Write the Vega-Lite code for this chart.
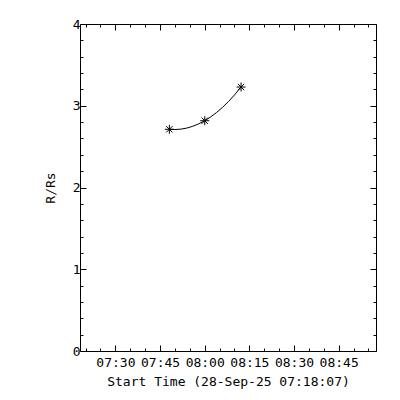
{
  "$schema": "https://vega.github.io/schema/vega-lite/v6.json",
  "width": 296,
  "height": 327,
  "autosize": "none",
  "padding": {"left": 80, "top": 24, "right": 24, "bottom": 49},
  "background": "white",
  "config": {
    "view": {"stroke": null},
    "axis": {
      "grid": false,
      "domainColor": "black",
      "domainWidth": 1,
      "tickColor": "black",
      "tickWidth": 1,
      "labelColor": "black",
      "titleColor": "black",
      "labelFont": "DejaVu Sans Mono",
      "titleFont": "DejaVu Sans Mono",
      "labelFontSize": 13,
      "titleFontSize": 13,
      "titleFontWeight": "normal",
      "labelFlush": false,
      "labelOverlap": false
    }
  },
  "datasets": {
    "fit": [
      {"time": "2025-09-28T07:48:08Z", "r": 2.712},
      {"time": "2025-09-28T07:50:00Z", "r": 2.709},
      {"time": "2025-09-28T07:52:00Z", "r": 2.714},
      {"time": "2025-09-28T07:54:00Z", "r": 2.727},
      {"time": "2025-09-28T07:56:00Z", "r": 2.749},
      {"time": "2025-09-28T07:58:00Z", "r": 2.779},
      {"time": "2025-09-28T08:00:01Z", "r": 2.817},
      {"time": "2025-09-28T08:02:00Z", "r": 2.863},
      {"time": "2025-09-28T08:04:00Z", "r": 2.918},
      {"time": "2025-09-28T08:06:00Z", "r": 2.981},
      {"time": "2025-09-28T08:08:00Z", "r": 3.052},
      {"time": "2025-09-28T08:10:00Z", "r": 3.132},
      {"time": "2025-09-28T08:12:13Z", "r": 3.229}
    ],
    "obs": [
      {"time": "2025-09-28T07:48:08Z", "r": 2.712},
      {"time": "2025-09-28T08:00:01Z", "r": 2.817},
      {"time": "2025-09-28T08:12:13Z", "r": 3.229}
    ]
  },
  "layer": [
    {
      "data": {"name": "fit"},
      "mark": {"type": "line", "color": "black", "strokeWidth": 1},
      "encoding": {
        "x": {
          "field": "time",
          "type": "temporal",
          "scale": {
            "type": "utc",
            "domain": [
              {"year": 2025, "month": 9, "date": 28, "hours": 7, "minutes": 18, "seconds": 7, "utc": true},
              {"year": 2025, "month": 9, "date": 28, "hours": 8, "minutes": 57, "seconds": 32, "utc": true}
            ]
          },
          "axis": {
            "orient": "bottom",
            "values": [
              {"year": 2025, "month": 9, "date": 28, "hours": 7, "minutes": 20, "utc": true},
              {"year": 2025, "month": 9, "date": 28, "hours": 7, "minutes": 25, "utc": true},
              {"year": 2025, "month": 9, "date": 28, "hours": 7, "minutes": 30, "utc": true},
              {"year": 2025, "month": 9, "date": 28, "hours": 7, "minutes": 35, "utc": true},
              {"year": 2025, "month": 9, "date": 28, "hours": 7, "minutes": 40, "utc": true},
              {"year": 2025, "month": 9, "date": 28, "hours": 7, "minutes": 45, "utc": true},
              {"year": 2025, "month": 9, "date": 28, "hours": 7, "minutes": 50, "utc": true},
              {"year": 2025, "month": 9, "date": 28, "hours": 7, "minutes": 55, "utc": true},
              {"year": 2025, "month": 9, "date": 28, "hours": 8, "minutes": 0, "utc": true},
              {"year": 2025, "month": 9, "date": 28, "hours": 8, "minutes": 5, "utc": true},
              {"year": 2025, "month": 9, "date": 28, "hours": 8, "minutes": 10, "utc": true},
              {"year": 2025, "month": 9, "date": 28, "hours": 8, "minutes": 15, "utc": true},
              {"year": 2025, "month": 9, "date": 28, "hours": 8, "minutes": 20, "utc": true},
              {"year": 2025, "month": 9, "date": 28, "hours": 8, "minutes": 25, "utc": true},
              {"year": 2025, "month": 9, "date": 28, "hours": 8, "minutes": 30, "utc": true},
              {"year": 2025, "month": 9, "date": 28, "hours": 8, "minutes": 35, "utc": true},
              {"year": 2025, "month": 9, "date": 28, "hours": 8, "minutes": 40, "utc": true},
              {"year": 2025, "month": 9, "date": 28, "hours": 8, "minutes": 45, "utc": true},
              {"year": 2025, "month": 9, "date": 28, "hours": 8, "minutes": 50, "utc": true},
              {"year": 2025, "month": 9, "date": 28, "hours": 8, "minutes": 55, "utc": true}
            ],
            "tickSize": {"condition": {"test": "utcminutes(datum.value) % 15 == 0", "value": -6}, "value": -3},
            "labelExpr": "utcminutes(datum.value) % 15 == 0 ? utcFormat(datum.value, '%H:%M') : ''",
            "labelPadding": 11,
            "title": "Start Time (28-Sep-25 07:18:07)",
            "titlePadding": 3
          }
        },
        "y": {
          "field": "r",
          "type": "quantitative",
          "scale": {"domain": [0, 4], "nice": false, "zero": false},
          "axis": {
            "orient": "left",
            "values": [0, 0.2, 0.4, 0.6, 0.8, 1, 1.2, 1.4, 1.6, 1.8, 2, 2.2, 2.4, 2.6, 2.8, 3, 3.2, 3.4, 3.6, 3.8, 4],
            "tickSize": {"condition": {"test": "datum.value % 1 == 0", "value": -6}, "value": -3},
            "labelExpr": "datum.value % 1 == 0 ? format(datum.value, 'd') : ''",
            "labelPadding": 6,
            "title": "R/Rs",
            "titlePadding": 15
          }
        }
      }
    },
    {
      "data": {"name": "obs"},
      "mark": {
        "type": "point",
        "shape": "M-1,0L1,0M0,-1L0,1M-0.7,-0.7L0.7,0.7M-0.7,0.7L0.7,-0.7",
        "filled": false,
        "stroke": "black",
        "strokeWidth": 1,
        "opacity": 1,
        "size": 81
      },
      "encoding": {
        "x": {
          "field": "time",
          "type": "temporal",
          "scale": {
            "type": "utc",
            "domain": [
              {"year": 2025, "month": 9, "date": 28, "hours": 7, "minutes": 18, "seconds": 7, "utc": true},
              {"year": 2025, "month": 9, "date": 28, "hours": 8, "minutes": 57, "seconds": 32, "utc": true}
            ]
          },
          "axis": {
            "orient": "top",
            "values": [
              {"year": 2025, "month": 9, "date": 28, "hours": 7, "minutes": 20, "utc": true},
              {"year": 2025, "month": 9, "date": 28, "hours": 7, "minutes": 25, "utc": true},
              {"year": 2025, "month": 9, "date": 28, "hours": 7, "minutes": 30, "utc": true},
              {"year": 2025, "month": 9, "date": 28, "hours": 7, "minutes": 35, "utc": true},
              {"year": 2025, "month": 9, "date": 28, "hours": 7, "minutes": 40, "utc": true},
              {"year": 2025, "month": 9, "date": 28, "hours": 7, "minutes": 45, "utc": true},
              {"year": 2025, "month": 9, "date": 28, "hours": 7, "minutes": 50, "utc": true},
              {"year": 2025, "month": 9, "date": 28, "hours": 7, "minutes": 55, "utc": true},
              {"year": 2025, "month": 9, "date": 28, "hours": 8, "minutes": 0, "utc": true},
              {"year": 2025, "month": 9, "date": 28, "hours": 8, "minutes": 5, "utc": true},
              {"year": 2025, "month": 9, "date": 28, "hours": 8, "minutes": 10, "utc": true},
              {"year": 2025, "month": 9, "date": 28, "hours": 8, "minutes": 15, "utc": true},
              {"year": 2025, "month": 9, "date": 28, "hours": 8, "minutes": 20, "utc": true},
              {"year": 2025, "month": 9, "date": 28, "hours": 8, "minutes": 25, "utc": true},
              {"year": 2025, "month": 9, "date": 28, "hours": 8, "minutes": 30, "utc": true},
              {"year": 2025, "month": 9, "date": 28, "hours": 8, "minutes": 35, "utc": true},
              {"year": 2025, "month": 9, "date": 28, "hours": 8, "minutes": 40, "utc": true},
              {"year": 2025, "month": 9, "date": 28, "hours": 8, "minutes": 45, "utc": true},
              {"year": 2025, "month": 9, "date": 28, "hours": 8, "minutes": 50, "utc": true},
              {"year": 2025, "month": 9, "date": 28, "hours": 8, "minutes": 55, "utc": true}
            ],
            "tickSize": {"condition": {"test": "utcminutes(datum.value) % 15 == 0", "value": -6}, "value": -3},
            "labels": false,
            "title": null
          }
        },
        "y": {
          "field": "r",
          "type": "quantitative",
          "scale": {"domain": [0, 4], "nice": false, "zero": false},
          "axis": {
            "orient": "right",
            "values": [0, 0.2, 0.4, 0.6, 0.8, 1, 1.2, 1.4, 1.6, 1.8, 2, 2.2, 2.4, 2.6, 2.8, 3, 3.2, 3.4, 3.6, 3.8, 4],
            "tickSize": {"condition": {"test": "datum.value % 1 == 0", "value": -6}, "value": -3},
            "labels": false,
            "title": null
          }
        }
      }
    }
  ],
  "resolve": {"axis": {"x": "independent", "y": "independent"}}
}
